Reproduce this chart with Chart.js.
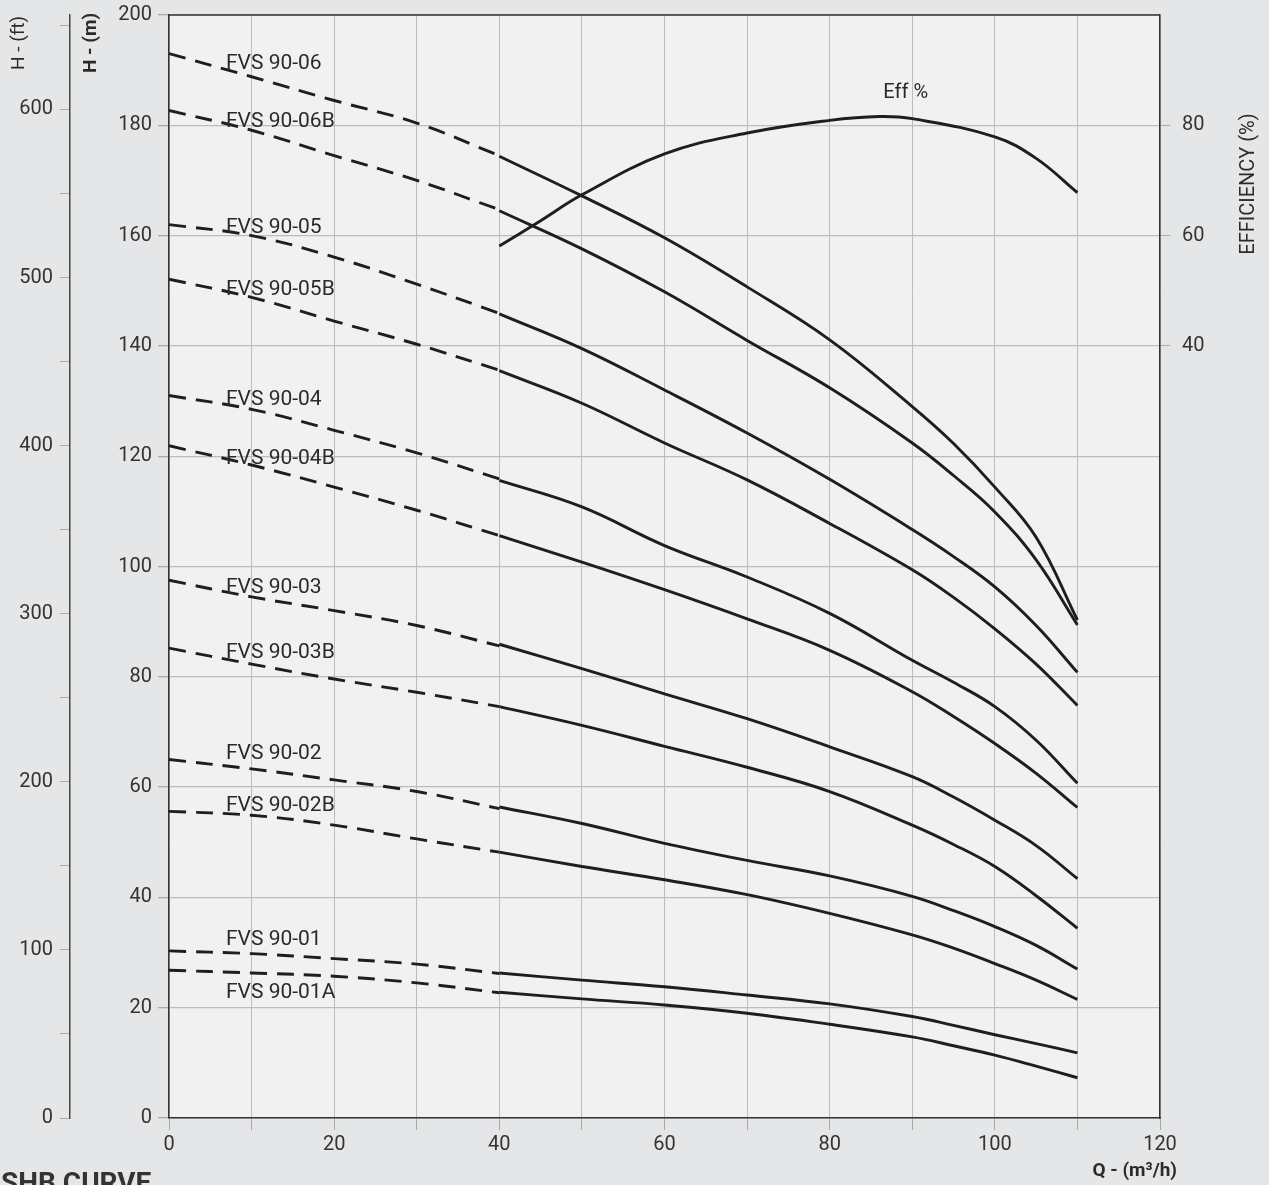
<!DOCTYPE html>
<html>
<head>
<meta charset="utf-8">
<script src="https://cdn.jsdelivr.net/npm/chart.js@4.4.1/dist/chart.umd.min.js"></script>
<style>
  html, body { margin: 0; padding: 0; background: #e5e6e8; overflow: hidden; }
  #wrap { width: 1269px; height: 1185px; position: relative; }
</style>
</head>
<body>
<div id="wrap"><canvas id="curvas" width="1269" height="1185"></canvas></div>
<script>
// caudal Q (m3/h): tramo punteado y tramo continuo
const qDash = [0, 10, 20, 30, 40];
const qSolid = [40, 50, 60, 70, 80, 90, 95, 100, 105, 110];

// altura H (m) por modelo
const dash06 = [193.0, 188.8, 184.5, 180.4, 174.5];
const solid06 = [174.4, 167.2, 159.6, 150.7, 141.1, 129.0, 122.3, 114.4, 105.3, 90.3];
const dash06B = [182.7, 179.1, 174.5, 170.0, 164.7];
const solid06B = [164.5, 157.6, 149.8, 141.0, 132.4, 122.4, 116.5, 109.9, 101.2, 89.4];
const dash05 = [162.0, 160.0, 156.1, 151.2, 145.9];
const solid05 = [145.8, 139.5, 132.0, 124.2, 115.8, 106.7, 101.8, 96.3, 89.3, 80.8];
const dash05B = [152.1, 148.8, 144.5, 140.3, 135.6];
const solid05B = [135.5, 129.6, 122.4, 115.7, 107.8, 99.4, 94.4, 88.7, 82.3, 74.8];
const dash04 = [131.0, 128.5, 124.7, 120.6, 115.9];
const solid04 = [115.6, 110.8, 103.8, 98.1, 91.5, 83.0, 79.0, 74.6, 68.5, 60.7];
const dash04B = [121.9, 118.4, 114.4, 110.2, 105.6];
const solid04B = [105.6, 100.8, 95.8, 90.5, 84.8, 77.3, 72.8, 67.9, 62.5, 56.3];
const dash03 = [97.5, 94.5, 92.0, 89.3, 85.6];
const solid03 = [85.9, 81.5, 76.9, 72.4, 67.3, 61.9, 58.2, 54.0, 49.4, 43.4];
const dash03B = [85.2, 82.3, 79.6, 77.2, 74.6];
const solid03B = [74.6, 71.2, 67.4, 63.6, 59.2, 53.1, 49.6, 45.6, 40.3, 34.4];
const dash02 = [65.0, 63.3, 61.3, 59.2, 56.1];
const solid02 = [56.4, 53.4, 49.8, 46.7, 43.9, 40.2, 37.6, 34.7, 31.3, 27.0];
const dash02B = [55.6, 54.9, 53.1, 50.6, 48.2];
const solid02B = [48.2, 45.6, 43.2, 40.5, 37.1, 33.2, 30.8, 28.0, 25.0, 21.5];
const dash01 = [30.3, 29.8, 28.9, 27.9, 26.2];
const solid01 = [26.3, 25.0, 23.8, 22.3, 20.7, 18.4, 16.8, 15.1, 13.5, 11.8];
const dash01A = [26.8, 26.3, 25.7, 24.5, 22.7];
const solid01A = [22.8, 21.6, 20.5, 19.0, 17.0, 14.7, 13.1, 11.4, 9.4, 7.3];

const modelos = ['FVS 90-06', 'FVS 90-06B', 'FVS 90-05', 'FVS 90-05B', 'FVS 90-04', 'FVS 90-04B',
                 'FVS 90-03', 'FVS 90-03B', 'FVS 90-02', 'FVS 90-02B', 'FVS 90-01', 'FVS 90-01A'];
const tramosDash = [dash06, dash06B, dash05, dash05B, dash04, dash04B, dash03, dash03B, dash02, dash02B, dash01, dash01A];
const tramosSolid = [solid06, solid06B, solid05, solid05B, solid04, solid04B, solid03, solid03B, solid02, solid02B, solid01, solid01A];

// rendimiento (%)
const qEff = [40, 45, 50, 60, 70, 80, 86, 90, 100, 105, 110];
const eff = [58.1, 62.7, 67.4, 74.8, 78.6, 80.9, 81.6, 81.2, 77.9, 74.0, 67.8];

// marcas de ejes
const ticksQ = [0, 20, 40, 60, 80, 100, 120];
const ticksM = [0, 20, 40, 60, 80, 100, 120, 140, 160, 180, 200];
const ticksFt = [0, 100, 200, 300, 400, 500, 600];
const ticksEff = [40, 60, 80];

// posicion de las etiquetas (Q, H)
const posEtiquetas = [[6.9, 191.2], [6.9, 180.6], [6.9, 161.5], [6.9, 150.1], [6.9, 130.3], [6.9, 119.5],
                      [6.9, 96.2], [6.9, 84.3], [6.9, 66.0], [6.9, 56.7], [6.9, 32.4], [6.9, 22.8]];
const posEff = [86.5, 185.8];

const FUENTE = 'Roboto';
const NEGRO = '#1e1e1e';
const GRIS = '#bcbcbc';

const datasets = [];
modelos.forEach((m, i) => {
    datasets.push({
        label: m + ' (punteado)',
        data: qDash.map((q, k) => ({ x: q, y: tramosDash[i][k] })),
        borderDash: [17, 10]
    });
    datasets.push({
        label: m,
        data: qSolid.map((q, k) => ({ x: q, y: tramosSolid[i][k] }))
    });
});
datasets.push({
    label: 'Eff %',
    yAxisID: 'yEff',
    data: qEff.map((q, k) => ({ x: q, y: eff[k] }))
});
datasets.forEach(d => {
    d.borderColor = NEGRO;
    d.borderWidth = 2.9;
    d.pointRadius = 0;
    d.fill = false;
    d.tension = 0.4;
});

function texto(ctx, str, x, y, font, align, rot) {
    ctx.save();
    ctx.translate(x, y);
    if (rot) ctx.rotate(rot);
    ctx.font = font;
    ctx.fillStyle = '#2a2a2a';
    ctx.textAlign = align;
    ctx.textBaseline = 'middle';
    ctx.fillText(str, 0, 0);
    ctx.restore();
}

// sin margen extra por las etiquetas de los extremos
function sinPaddingV(s, w) { s.width = w; s.paddingTop = 0; s.paddingBottom = 0; }

const decorado = {
    id: 'decorado',
    beforeDraw(chart) {
        const { ctx, chartArea: a } = chart;
        ctx.save();
        ctx.fillStyle = '#f1f1f1';
        ctx.fillRect(a.left, a.top, a.right - a.left, a.bottom - a.top);
        ctx.restore();
    },
    afterDraw(chart) {
        const { ctx, chartArea: a, scales } = chart;
        ctx.save();
        ctx.strokeStyle = '#333';
        ctx.lineWidth = 1.5;
        ctx.beginPath();
        ctx.moveTo(a.left, a.top);
        ctx.lineTo(a.right, a.top);
        ctx.stroke();
        ctx.restore();

        modelos.forEach((m, i) => {
            const p = posEtiquetas[i];
            texto(ctx, m, scales.x.getPixelForValue(p[0]), scales.y.getPixelForValue(p[1]),
                  '21px ' + FUENTE, 'left');
        });
        texto(ctx, 'Eff %', scales.x.getPixelForValue(posEff[0]), scales.y.getPixelForValue(posEff[1]),
              '20px ' + FUENTE, 'left');

        texto(ctx, 'H - (ft)', 19, 43, '19px ' + FUENTE, 'center', -Math.PI / 2);
        texto(ctx, 'H - (m)', 91, 43, 'bold 19px ' + FUENTE, 'center', -Math.PI / 2);
        texto(ctx, 'EFFICIENCY (%)', 1249, 184, '20px ' + FUENTE, 'center', -Math.PI / 2);
        texto(ctx, 'Q - (m\u00b3/h)', 1177, 1171, 'bold 19px ' + FUENTE, 'right');

        ctx.save();
        ctx.font = 'bold 28px ' + FUENTE;
        ctx.fillStyle = '#333';
        ctx.textAlign = 'left';
        ctx.textBaseline = 'alphabetic';
        ctx.fillText('SHB CURVE', 1, 1192);
        ctx.restore();
    }
};

const fuenteTicks = { family: FUENTE, size: 20 };

new Chart(document.getElementById('curvas').getContext('2d'), {
    type: 'line',
    data: { datasets: datasets },
    options: {
        responsive: false,
        animation: false,
        layout: { padding: { top: 15, left: 0, right: 0, bottom: 0 } },
        plugins: { legend: { display: false }, tooltip: { enabled: false } },
        scales: {
            x: {
                type: 'linear', position: 'bottom', min: 0, max: 120,
                ticks: {
                    stepSize: 10, autoSkip: false, maxRotation: 0, color: '#333', font: fuenteTicks, padding: 3,
                    callback: v => ticksQ.includes(v) ? v : ''
                },
                grid: { color: GRIS, lineWidth: 1, tickLength: 12, tickColor: '#aaa' },
                border: { color: '#333', width: 1.5 },
                afterFit: s => { s.height = 67; s.paddingLeft = 0; s.paddingRight = 0; }
            },
            y: {
                type: 'linear', position: 'left', weight: 0, min: 0, max: 200,
                ticks: {
                    stepSize: 20, autoSkip: false, color: '#333', font: fuenteTicks, padding: 6,
                    callback: v => ticksM.includes(v) ? v : ''
                },
                grid: { color: GRIS, lineWidth: 1.3, tickLength: 11, tickColor: '#aaa' },
                border: { color: '#333', width: 1.5 },
                afterFit: s => sinPaddingV(s, 99)
            },
            yFt: {
                type: 'linear', position: 'left', weight: 1, min: 0, max: 200 / 0.3048,
                afterBuildTicks: s => {
                    const t = [];
                    for (let v = 0; v <= 650; v += 50) t.push({ value: v });
                    s.ticks = t;
                },
                ticks: {
                    autoSkip: false, color: '#333', font: fuenteTicks, padding: 7,
                    callback: v => ticksFt.includes(v) ? v : ''
                },
                grid: { drawOnChartArea: false, tickLength: 10, tickColor: '#aaa' },
                border: { color: '#444', width: 1.5 },
                afterFit: s => sinPaddingV(s, 70)
            },
            yEff: {
                type: 'linear', position: 'right', min: -100, max: 100,
                afterBuildTicks: s => { s.ticks = ticksEff.map(v => ({ value: v })); },
                ticks: { autoSkip: false, color: '#333', font: fuenteTicks, padding: 12 },
                grid: { drawOnChartArea: false, tickLength: 10, tickColor: '#aaa' },
                border: { color: '#333', width: 1.5 },
                afterFit: s => sinPaddingV(s, 109)
            }
        }
    },
    plugins: [decorado]
});
</script>
</body>
</html>
